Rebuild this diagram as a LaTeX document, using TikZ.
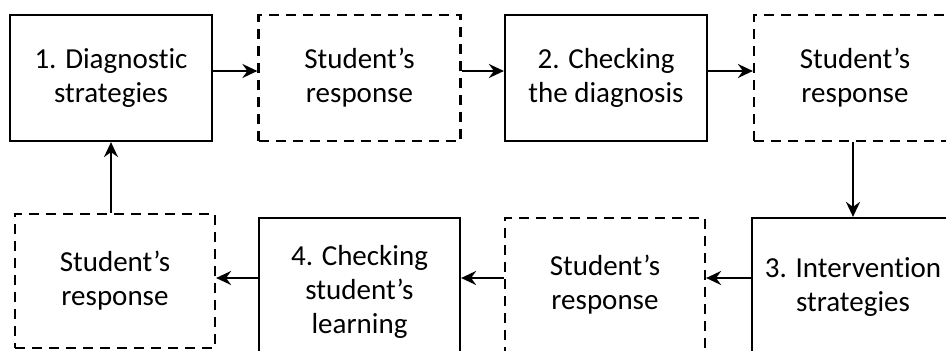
\documentclass[tikz,border=0pt]{standalone}
\usepackage{fontspec}
\setmainfont{Carlito}[Ligatures=NoCommon]
\usetikzlibrary{arrows.meta, positioning}

\tikzset{
    stage/.style={draw, line width=2.2pt, align=center, font=\fontsize{29}{34}\selectfont,
        minimum width=202pt, minimum height=126pt, inner sep=0pt},
    reply/.style={stage, dash pattern=on 10pt off 7pt},
    flow/.style={line width=2.2pt, -{Stealth[length=15pt, width=14pt, inset=5pt]}}
}

\begin{document}
\begin{tikzpicture}[x=1pt, y=-1pt]

\useasboundingbox (0,0) rectangle (946,351);
\clip (0,0) rectangle (946,351);

% --- Top row ---
\node[stage] (diag) at (111,78) {1. Diagnostic\\strategies};
\node[reply] (resA) at (359.5,78) {Student's\\response};
\node[stage] (check) at (606,78) {2. Checking\\the diagnosis};
\node[reply] (resB) at (855,78) {Student's\\response};

% --- Bottom row ---
\node[stage, minimum height=138pt] (interv) at (853,287) {3. Intervention\\strategies};
\node[reply, minimum width=200pt, minimum height=134pt] (resC) at (605,285) {Student's\\response};
\node[stage, minimum width=201pt, minimum height=148pt] (learn) at (359.5,292) {4. Checking\\student's\\learning};
\node[reply, minimum width=200pt, minimum height=134pt] (resD) at (115,281) {Student's\\response};

% Arrow levels
\coordinate (toprow) at (0,71);
\coordinate (lowrow) at (0,278);

% Connectors
\draw[flow] (diag.east |- toprow) -- (resA.west |- toprow);
\draw[flow] (resA.east |- toprow) -- (check.west |- toprow);
\draw[flow] (check.east |- toprow) -- (resB.west |- toprow);
\draw[flow] (resB.south -| interv.north) -- (interv.north);
\draw[flow] (interv.west |- lowrow) -- (resC.east |- lowrow);
\draw[flow] (resC.west |- lowrow) -- (learn.east |- lowrow);
\draw[flow] (learn.west |- lowrow) -- (resD.east |- lowrow);
\draw[flow] (diag.south |- resD.north) -- (diag.south);

\end{tikzpicture}
\end{document}
